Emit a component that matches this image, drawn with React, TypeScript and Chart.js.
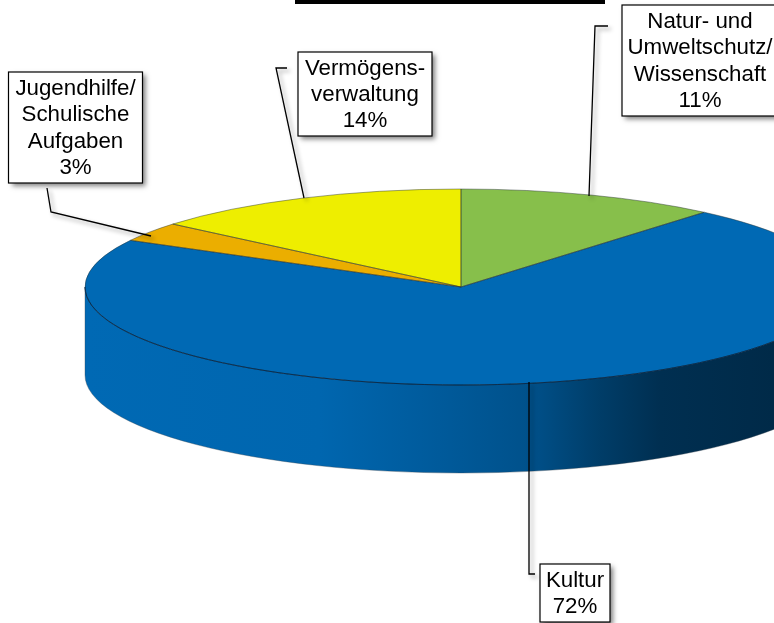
import React, { useEffect, useRef } from "react";
import { Chart, registerables } from "chart.js";

Chart.register(...registerables);

const categories = ["Natur- und Umweltschutz/Wissenschaft", "Kultur", "Jugendhilfe/Schulische Aufgaben", "Vermögensverwaltung"];
const shares = [11.2, 71.7, 3.2, 13.9];
const colors = ["#87BF4B", "#0069B4", "#EBAE00", "#EEEE00"];
const labelLines = [
  ["Natur- und", "Umweltschutz/", "Wissenschaft", "11%"],
  ["Kultur", "72%"],
  ["Jugendhilfe/", "Schulische", "Aufgaben", "3%"],
  ["Vermögens-", "verwaltung", "14%"],
];
// Label box: x, y, w, h; leader polyline
const labelBoxes = [
  [622, 5, 162, 111],
  [540, 564, 70, 58],
  [8.5, 72, 134, 111],
  [298, 52, 134, 84],
];
const leaders = [
  [[608, 26], [595, 26], [589, 196]],
  [[529, 382], [529, 574], [535, 574]],
  [[47, 188], [51, 212], [151, 236]],
  [[287, 68], [276, 68], [304, 198]],
];
const shadeStops = [
  [85, 1.0], [320, 0.97], [450, 0.85], [529, 0.77], [600, 0.58], [660, 0.45], [774, 0.4], [837, 0.4],
];

const CANVAS_W = 922;
const CANVAS_H = 752;
const CENTER_Y = 287;
const SQUASH = 98 / 376;
const DEPTH = 88;
const FONT = '22.3px "Liberation Sans", Arial, sans-serif';
const LINE_H = 26.3;

function shade(hex: string, f: number) {
  const n = parseInt(hex.slice(1), 16);
  const c = [(n >> 16) & 255, (n >> 8) & 255, n & 255].map((v) => Math.round(v * f));
  return `rgb(${c[0]},${c[1]},${c[2]})`;
}

function arcsOf(chart: any) {
  return chart.getDatasetMeta(0).data.map((a: any) => a.getProps(["x", "y", "startAngle", "endAngle", "outerRadius"], true));
}

const pie3d = {
  id: "pie3d",
  beforeDatasetsDraw(chart: any) {
    const ctx = chart.ctx;
    const arcs = arcsOf(chart);
    arcs.forEach((a: any, i: number) => {
      const a0 = Math.max(a.startAngle, 0);
      const a1 = Math.min(a.endAngle, Math.PI);
      if (a1 <= a0) return;
      const rx = a.outerRadius;
      const ry = rx * SQUASH;
      const x0 = shadeStops[0][0];
      const x1 = shadeStops[shadeStops.length - 1][0];
      const g = ctx.createLinearGradient(x0, 0, x1, 0);
      shadeStops.forEach(([x, f]) => g.addColorStop((x - x0) / (x1 - x0), shade(colors[i], f)));
      ctx.save();
      ctx.beginPath();
      ctx.ellipse(a.x, CENTER_Y, rx, ry, 0, a0, a1);
      ctx.ellipse(a.x, CENTER_Y + DEPTH, rx, ry, 0, a1, a0, true);
      ctx.closePath();
      ctx.fillStyle = g;
      ctx.fill();
      ctx.strokeStyle = "rgba(60,70,80,0.45)";
      ctx.lineWidth = 0.8;
      ctx.stroke();
      ctx.restore();
    });
    ctx.save();
    ctx.translate(0, CENTER_Y);
    ctx.scale(1, SQUASH);
    ctx.translate(0, -chart.getDatasetMeta(0).data[0].y);
  },
  afterDatasetsDraw(chart: any) {
    const ctx = chart.ctx;
    ctx.restore();
    const arcs = arcsOf(chart);
    // top-face outlines
    arcs.forEach((a: any) => {
      ctx.save();
      ctx.beginPath();
      ctx.moveTo(a.x, CENTER_Y);
      ctx.ellipse(a.x, CENTER_Y, a.outerRadius, a.outerRadius * SQUASH, 0, a.startAngle, a.endAngle);
      ctx.closePath();
      ctx.strokeStyle = "rgba(40,50,50,0.5)";
      ctx.lineWidth = 0.9;
      ctx.stroke();
      ctx.restore();
    });
    // darker rim between top face and wall
    ctx.save();
    ctx.beginPath();
    ctx.ellipse(arcs[0].x, CENTER_Y, arcs[0].outerRadius, arcs[0].outerRadius * SQUASH, 0, 0, Math.PI);
    ctx.strokeStyle = "rgba(0,35,70,0.8)";
    ctx.lineWidth = 1;
    ctx.stroke();
    ctx.restore();

    // title rule cut off at the top of the picture
    ctx.fillStyle = "#000";
    ctx.fillRect(295, 0, 310, 4);

    // leader lines
    leaders.forEach((pts) => {
      ctx.save();
      ctx.shadowColor = "rgba(0,0,0,0.4)";
      ctx.shadowBlur = 4;
      ctx.shadowOffsetX = 3;
      ctx.shadowOffsetY = 3;
      ctx.beginPath();
      pts.forEach(([x, y], i) => (i ? ctx.lineTo(x, y) : ctx.moveTo(x, y)));
      ctx.strokeStyle = "#000";
      ctx.lineWidth = 1.3;
      ctx.stroke();
      ctx.restore();
    });

    // label boxes
    labelBoxes.forEach(([x, y, w, h], i) => {
      ctx.save();
      ctx.shadowColor = "rgba(0,0,0,0.5)";
      ctx.shadowBlur = 5;
      ctx.shadowOffsetX = 3;
      ctx.shadowOffsetY = 3;
      ctx.fillStyle = "#fff";
      ctx.fillRect(x, y, w, h);
      ctx.restore();
      ctx.strokeStyle = "#000";
      ctx.lineWidth = 1.2;
      ctx.strokeRect(x, y, w, h);
      ctx.fillStyle = "#000";
      ctx.font = FONT;
      ctx.textAlign = "center";
      ctx.textBaseline = "middle";
      const lines = labelLines[i];
      const top = y + h / 2 - ((lines.length - 1) * LINE_H) / 2;
      const cx = i === 0 ? 700 : x + w / 2;
      lines.forEach((t, j) => ctx.fillText(t, cx, top + j * LINE_H + 1));
    });
  },
};

export default function App() {
  const ref = useRef<HTMLCanvasElement>(null);
  useEffect(() => {
    const chart = new Chart(ref.current!, {
      type: "pie",
      data: {
        labels: categories,
        datasets: [{ data: shares, backgroundColor: colors, borderWidth: 0, clip: false } as any],
      },
      options: {
        animation: false,
        responsive: false,
        maintainAspectRatio: false,
        rotation: 0,
        layout: { padding: 0 },
        plugins: { legend: { display: false }, tooltip: { enabled: false }, title: { display: false } },
      },
      plugins: [pie3d],
    });
    return () => chart.destroy();
  }, []);
  return (
    <div style={{ position: "absolute", left: 0, top: 0, width: 774, height: 623, overflow: "hidden", background: "#fff" }}>
      <canvas ref={ref} width={CANVAS_W} height={CANVAS_H} style={{ display: "block" }} />
    </div>
  );
}
